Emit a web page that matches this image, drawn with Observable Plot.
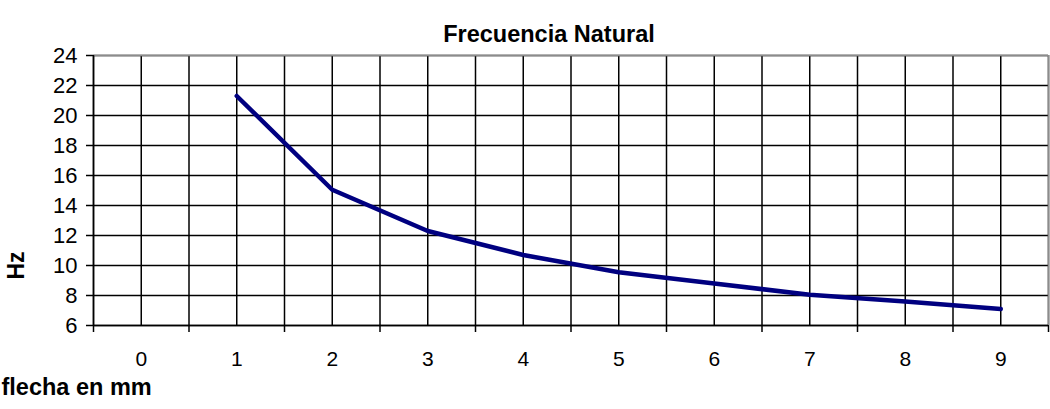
<!DOCTYPE html>
<html>
<head>
<meta charset="utf-8">
<script src="https://cdn.jsdelivr.net/npm/d3@7"></script>
<script src="https://cdn.jsdelivr.net/npm/@observablehq/plot@0.6"></script>
<style>
  html, body { margin: 0; padding: 0; background: #fff; }
  #chart svg { display: block; }
</style>
</head>
<body>
<div id="chart"></div>
<script>
// Data
const categories = [0, 1, 2, 3, 4, 5, 6, 7, 8, 9];
const flechaMm = [1, 2, 3, 4, 5, 6, 7, 8, 9];
const frecuenciaHz = [21.3, 15.05, 12.3, 10.7, 9.55, 8.8, 8.05, 7.6, 7.1];
const yTicks = [6, 8, 10, 12, 14, 16, 18, 20, 22, 24];
const titleText = "Frecuencia Natural";
const yLabel = "Hz";
const xLabel = "flecha en mm";

const data = flechaMm.map((x, i) => ({x, y: frecuenciaHz[i]}));
const boundaries = d3.range(categories.length + 1).map(i => i - 0.5);
const vGrid = boundaries.concat(categories);

const font = "'Liberation Sans', Arial, sans-serif";

const chart = Plot.plot({
  width: 1050,
  height: 409,
  marginTop: 55,
  marginBottom: 84,
  marginLeft: 93,
  marginRight: 2,
  style: {fontFamily: font, fontSize: "22px", color: "#000", background: "#fff"},
  x: {domain: [-0.5, categories.length - 0.5]},
  y: {domain: [6, 24]},
  marks: [
    Plot.gridY(yTicks, {stroke: "#000", strokeOpacity: 1, strokeWidth: 1.5}),
    Plot.gridX(vGrid, {stroke: "#000", strokeOpacity: 1, strokeWidth: 1.5}),
    Plot.ruleY([24], {stroke: "#8c8c8c", strokeWidth: 1.5}),
    Plot.ruleX([categories.length - 0.5], {stroke: "#8c8c8c", strokeWidth: 1.5}),
    Plot.ruleY([6], {stroke: "#000", strokeWidth: 1.5}),
    Plot.ruleX([-0.5], {stroke: "#000", strokeWidth: 1.5}),
    Plot.axisY(yTicks, {tickSize: 7, tickPadding: 9, label: null, fontSize: 22, strokeWidth: 1.5}),
    Plot.axisX(boundaries, {tickSize: 7, tickFormat: () => "", label: null, strokeWidth: 1.5}),
    Plot.axisX(categories, {tickSize: 0, tickPadding: 26, label: null, fontSize: 21, tickFormat: d => String(d)}),
    Plot.line(data, {x: "x", y: "y", stroke: "#000080", strokeWidth: 4.5, curve: "linear"}),
    Plot.text([titleText], {frameAnchor: "top", dx: -22, dy: -30, fontWeight: "bold", fontSize: 23.5}),
    Plot.text([yLabel], {frameAnchor: "left", dx: -77, dy: 89, rotate: -90, fontWeight: "bold", fontSize: 23}),
    Plot.text([xLabel], {frameAnchor: "bottom-left", dx: -92, dy: 69, textAnchor: "start", fontWeight: "bold", fontSize: 23.5})
  ]
});
document.getElementById("chart").appendChild(chart);
</script>
</body>
</html>
